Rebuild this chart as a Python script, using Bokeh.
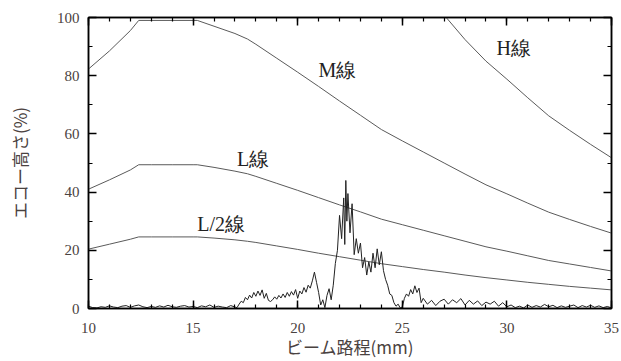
from bokeh.plotting import figure
from bokeh.models import LinearAxis, Range1d, FixedTicker, Label, CustomLabelingPolicy
from bokeh.embed import file_html
from bokeh.resources import INLINE

# DAC curves
dac_x = [10, 11, 12, 12.4, 13, 14, 15, 15.2, 16, 17, 17.6, 18, 19, 20, 21, 22, 23, 24, 25, 26, 27, 28, 29, 30, 31, 32, 33, 34, 35]
m_line = [82.3, 88.5, 95.5, 99, 99, 99, 99, 99, 97, 94.5, 92.6, 90.8, 86, 81.2, 76.3, 71.3, 66.4, 61.5, 57.6, 53.8, 50.0, 46.2, 42.5, 39.4, 36.2, 33.1, 30.6, 28.2, 25.9]
l_line = [41.0, 44.2, 47.6, 49.4, 49.4, 49.4, 49.4, 49.4, 48.5, 47.2, 46.3, 45.4, 43.0, 40.6, 38.1, 35.6, 33.2, 30.7, 28.8, 26.9, 25.0, 23.1, 21.2, 19.7, 18.1, 16.5, 15.3, 14.1, 12.9]
l2_line = [20.4, 22.1, 23.8, 24.6, 24.6, 24.6, 24.6, 24.6, 24.2, 23.6, 23.1, 22.7, 21.5, 20.3, 19.0, 17.8, 16.6, 15.4, 14.4, 13.4, 12.5, 11.5, 10.6, 9.8, 9.0, 8.3, 7.6, 7.0, 6.4]
h_x = [27.1, 28, 29, 30, 31, 32, 33, 34, 35]
h_line = [100, 92.4, 85.0, 78.8, 72.4, 66.2, 61.2, 56.4, 51.8]

# echo waveform
echo_x = [10.0, 10.2, 10.4, 10.6, 10.8, 11.0, 11.2, 11.4, 11.6, 11.8, 12.0, 12.2, 12.4, 12.6, 12.8,
          13.0, 13.2, 13.4, 13.6, 13.8, 14.0, 14.2, 14.4, 14.6, 14.8, 15.0, 15.2, 15.4, 15.6, 15.8,
          16.0, 16.2, 16.4, 16.6, 16.8,
          17.0, 17.1, 17.2, 17.3, 17.4, 17.5, 17.6, 17.7, 17.8, 17.9, 18.0, 18.1, 18.2, 18.3, 18.4,
          18.5, 18.6, 18.7, 18.8, 18.9, 19.0, 19.1, 19.2, 19.3, 19.4, 19.5, 19.6, 19.7, 19.8, 19.9,
          20.0, 20.1, 20.2, 20.3, 20.4, 20.5, 20.6, 20.7, 20.8, 20.9, 21.0, 21.1, 21.2, 21.3, 21.4,
          21.5, 21.6, 21.7, 21.8, 21.9, 22.0, 22.1, 22.2, 22.25, 22.3, 22.35, 22.4, 22.5, 22.6, 22.7,
          22.8, 22.9, 23.0, 23.1, 23.2, 23.3, 23.4, 23.5, 23.6, 23.7, 23.8, 23.9, 24.0, 24.1, 24.2,
          24.3, 24.4, 24.5, 24.6, 24.7, 24.8, 24.9, 25.0, 25.1, 25.2, 25.3, 25.4, 25.5, 25.6, 25.7,
          25.8, 25.9, 26.0,
          26.2, 26.4, 26.6, 26.8, 27.0, 27.2, 27.4, 27.6, 27.8, 28.0, 28.2, 28.4, 28.6, 28.8, 29.0,
          29.2, 29.4, 29.6, 29.8, 30.0, 30.2, 30.4, 30.6, 30.8, 31.0, 31.2, 31.4, 31.6, 31.8, 32.0,
          32.2, 32.4, 32.6, 32.8, 33.0, 33.2, 33.4, 33.6, 33.8, 34.0, 34.2, 34.4, 34.6, 34.8, 35.0]
echo_y = [0.8, 0.3, 0.2, 0.6, 0.4, 0.9, 0.5, 0.3, 0.8, 1.0, 0.4, 0.9, 1.2, 0.6, 0.3,
          0.7, 0.4, 0.9, 0.5, 1.1, 0.6, 0.4, 0.8, 1.0, 0.5, 0.7, 0.3, 0.9, 0.6, 1.2,
          0.4, 0.8, 0.5, 0.3, 1.0,
          0.5, 0.3, 1.5, 2.5, 2.0, 3.8, 3.0, 4.6, 3.6, 5.5, 4.2, 6.0, 4.5, 6.4, 3.5,
          5.2, 2.8, 2.4, 3.0, 4.0, 3.2, 4.5, 3.6, 5.0, 3.8, 5.5, 4.2, 5.8, 4.6, 6.5,
          3.5, 6.0, 5.0, 7.2, 5.6, 8.0, 7.0, 9.5, 12.5, 9.0, 5.5, 1.2, 3.0, 0.3, 4.5,
          6.8, 3.0, 8.0, 15.5, 20.0, 32.0, 24.0, 38.0, 22.0, 44.0, 30.0, 39.5, 26.0, 36.0, 18.5,
          24.0, 19.0, 22.5, 14.0, 17.5, 11.5, 16.0, 12.5, 19.0, 14.0, 20.5, 15.0, 19.5, 13.0, 10.0,
          8.0, 5.0, 4.5, 2.0, 0.8, 1.5, 0.2, 0.5, 3.5, 5.0, 4.2, 6.5, 5.0, 7.8, 5.5,
          7.0, 2.0, 3.5,
          1.5, 2.8, 1.0, 2.5, 3.2, 1.5, 3.0, 2.0, 3.4, 1.2, 2.8, 1.5, 2.6, 1.0, 2.2,
          1.5, 2.5, 0.8, 2.0, 0.6, 1.2, 0.3, 0.8, 0.2, 1.2, 0.4, 1.0, 0.5, 1.4, 0.6,
          1.1, 0.3, 0.9, 0.4, 0.8, 1.2, 0.3, 1.0, 0.5, 1.1, 0.4, 0.9, 0.3, 0.7, 0.2]

x_ticks = [10, 15, 20, 25, 30, 35]
y_ticks = [0, 20, 40, 60, 80, 100]
x_minor = list(range(10, 36))
y_minor = list(range(0, 101, 10))

labels = [("H線", 29.5, 89.5), ("M線", 21.0, 82.0), ("L線", 17.1, 51.3), ("L/2線", 15.2, 29.2)]

SERIF = "Liberation Serif"
TXT = "#4a4240"

p = figure(width=621, height=361, output_backend="svg", toolbar_location=None,
           x_range=Range1d(10, 35), y_range=Range1d(0, 100),
           min_border_left=88, min_border_right=10, min_border_top=17, min_border_bottom=53)
p.grid.visible = False
p.outline_line_color = "black"
p.outline_line_width = 1.5

curve_col = "#5a5a5a"
p.line(dac_x, m_line, line_color=curve_col, line_width=1)
p.line(dac_x, l_line, line_color=curve_col, line_width=1)
p.line(dac_x, l2_line, line_color=curve_col, line_width=1)
p.line(h_x, h_line, line_color=curve_col, line_width=1)
p.line(echo_x, echo_y, line_color="#222222", line_width=1)

for t, x, y in labels:
    p.add_layout(Label(x=x, y=y, text=t, text_font=SERIF, text_font_size="20px",
                       text_color="#222222", text_baseline="middle", text_align="left"))

def style(ax, show_labels):
    ax.axis_line_color = "black"
    ax.axis_line_width = 1.5
    ax.major_tick_in = 8
    ax.major_tick_out = 0
    ax.minor_tick_in = 4
    ax.minor_tick_out = 0
    ax.major_tick_line_width = 1.5
    ax.minor_tick_line_width = 1.2
    if show_labels:
        ax.major_label_text_font = SERIF
        ax.major_label_text_font_size = "15px"
        ax.major_label_text_color = TXT
        ax.major_label_standoff = 14
    else:
        ax.major_label_policy = CustomLabelingPolicy(code="return new Set()")
        ax.major_label_text_font_size = "1px"
        ax.major_label_standoff = 0

p.xaxis.ticker = FixedTicker(ticks=x_ticks, minor_ticks=x_minor)
p.yaxis.ticker = FixedTicker(ticks=y_ticks, minor_ticks=y_minor)
style(p.xaxis[0], True)
style(p.yaxis[0], True)
p.yaxis[0].major_label_standoff = 9
p.xaxis.axis_label = "ビーム路程(mm)"
p.yaxis.axis_label = "エコー高さ(%)"
for ax in (p.xaxis[0], p.yaxis[0]):
    ax.axis_label_text_font = "Noto Sans CJK JP"
    ax.axis_label_text_font_size = "17px"
    ax.axis_label_text_font_style = "normal"
    ax.axis_label_text_color = TXT
p.xaxis.axis_label_standoff = -2
p.yaxis.axis_label_standoff = 22

top = LinearAxis(ticker=FixedTicker(ticks=x_ticks, minor_ticks=x_minor))
style(top, False)
p.add_layout(top, "above")
right = LinearAxis(ticker=FixedTicker(ticks=y_ticks, minor_ticks=y_minor))
style(right, False)
p.add_layout(right, "right")

open("out.html", "w").write(file_html(p, INLINE))
